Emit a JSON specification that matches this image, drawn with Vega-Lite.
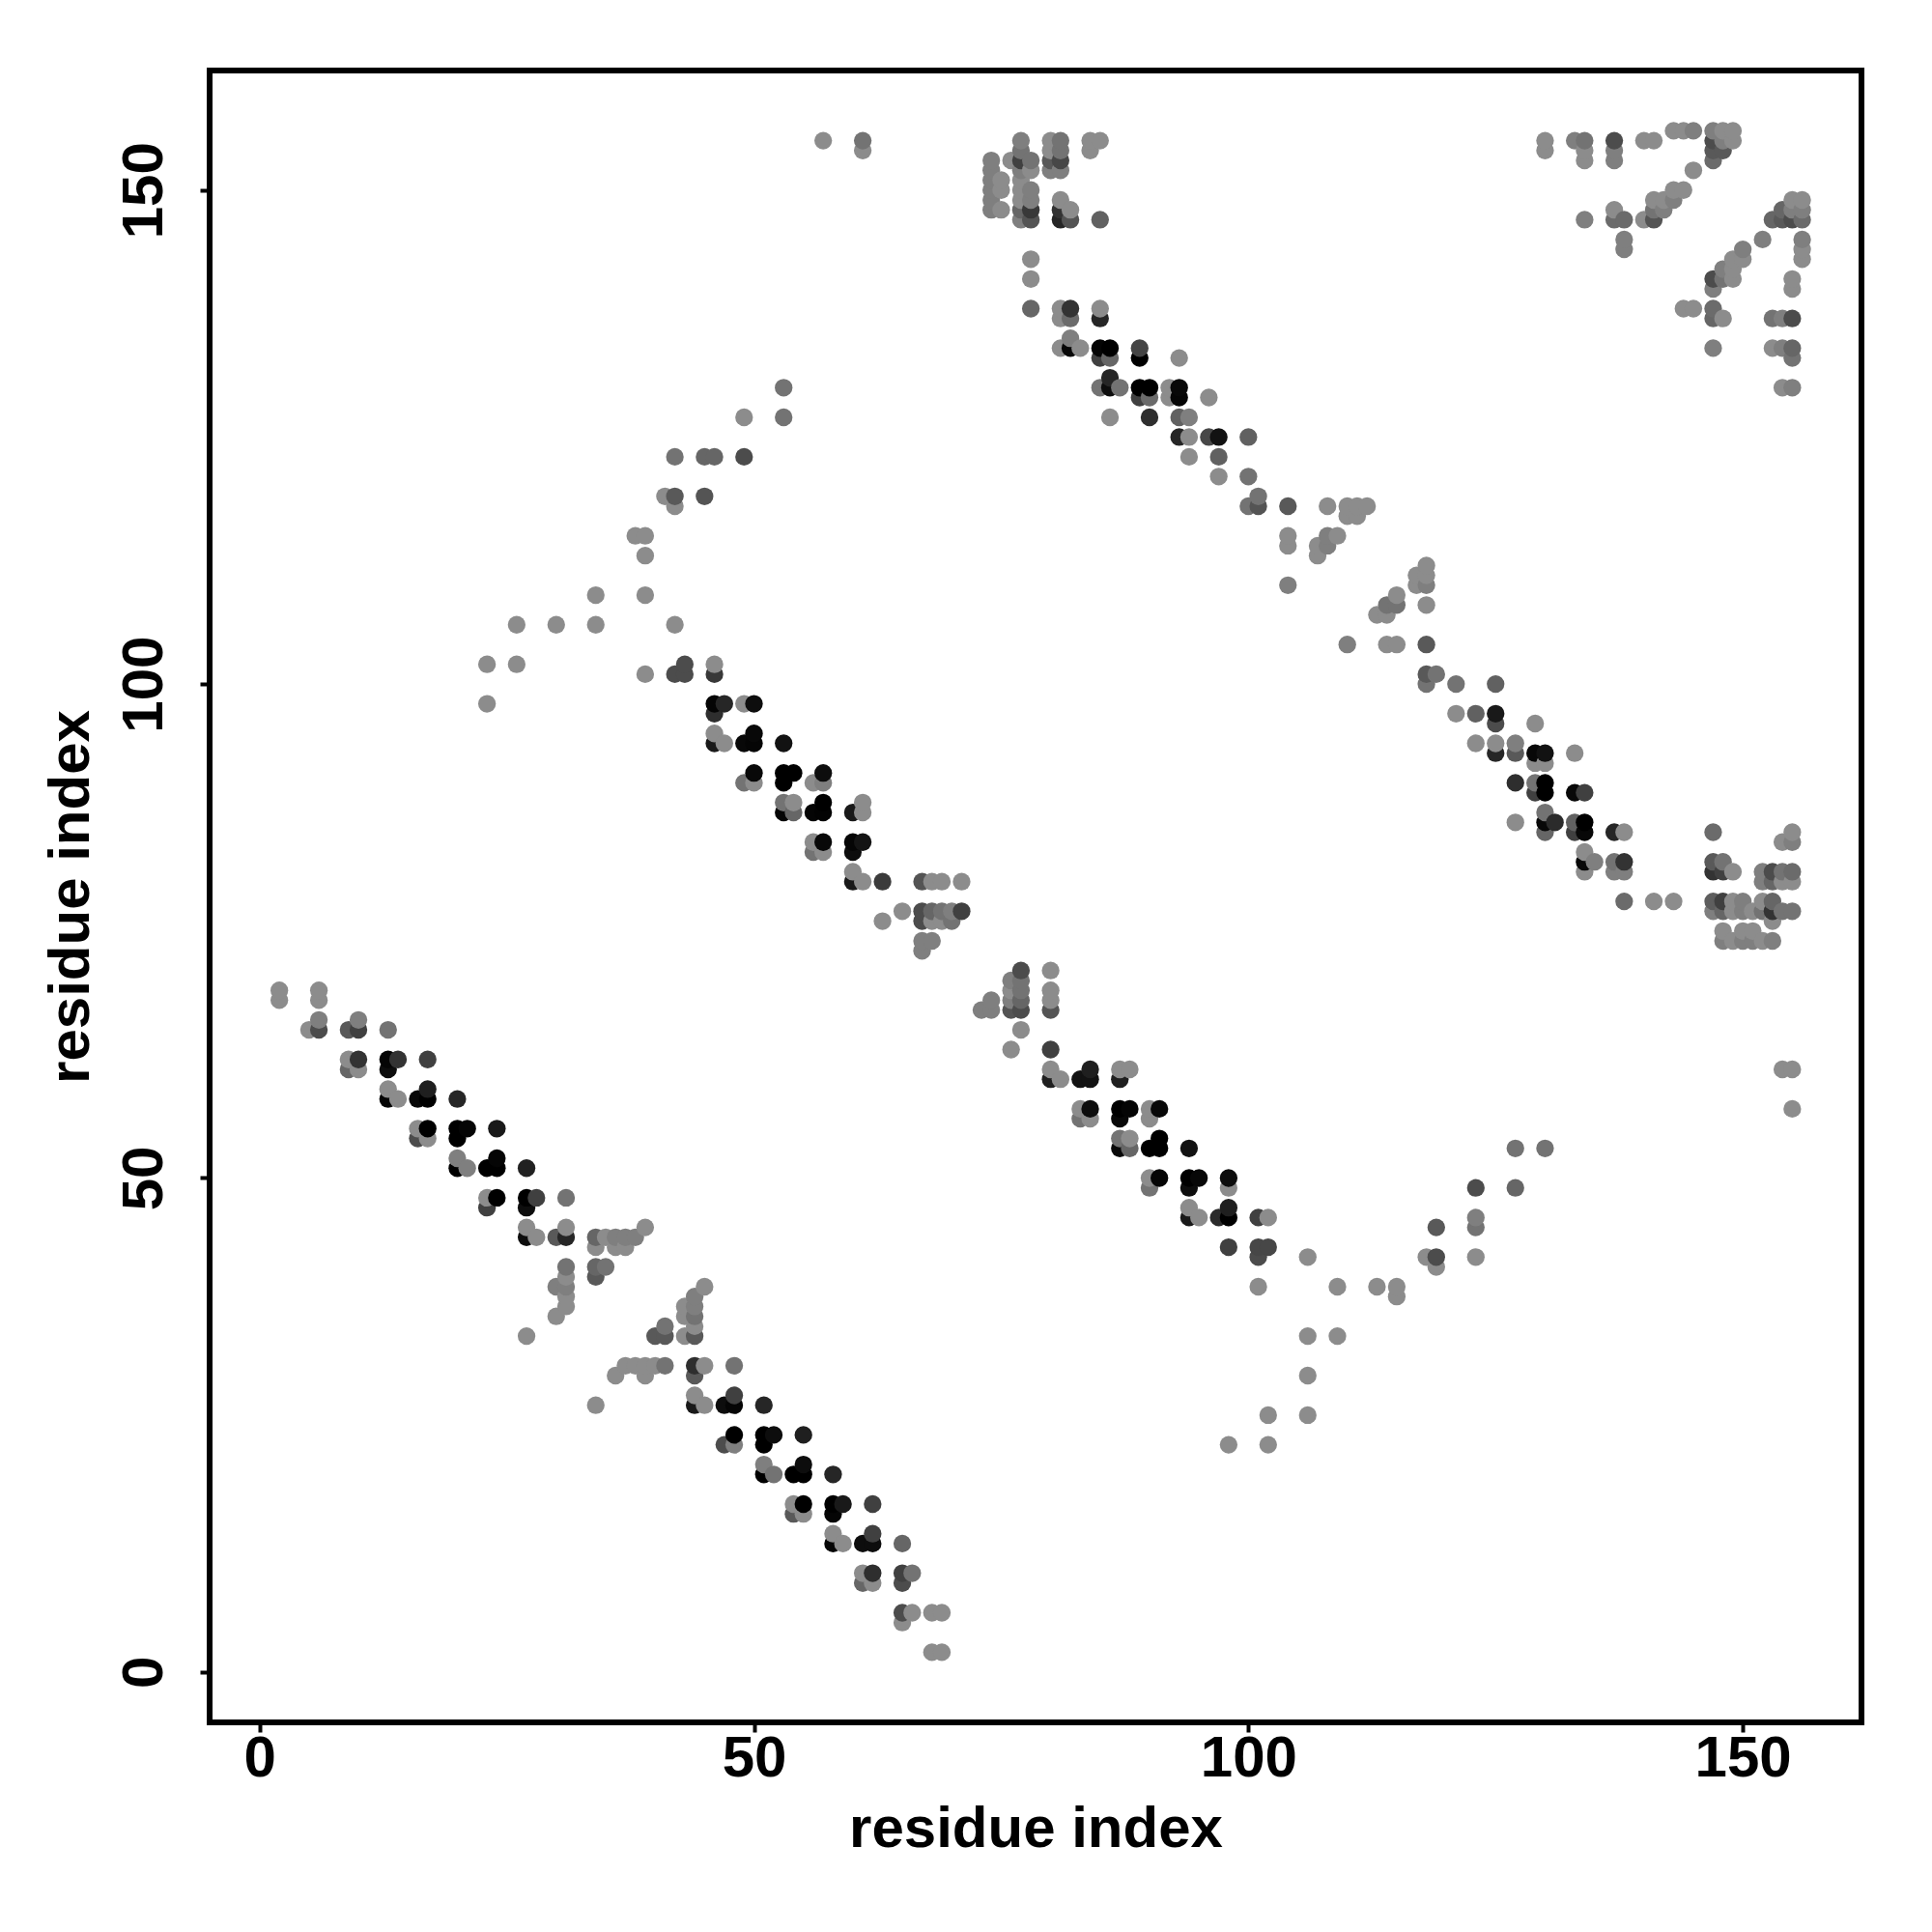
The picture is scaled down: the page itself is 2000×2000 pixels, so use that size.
{"$schema":"https://vega.github.io/schema/vega-lite/v6.json","width":1710,"height":1710,"autosize":{"type":"none"},"padding":{"left":217,"top":73,"right":73,"bottom":217},"background":"white","config":{"view":{"stroke":"black","strokeWidth":6,"fill":"white"}},"data":{"values":[
{"x":2,"y":68,"s":0.55},{"x":2,"y":69,"s":0.55},{"x":5,"y":65,"s":0.55},{"x":6,"y":65,"s":0.3},{"x":6,"y":66,"s":0.5},{"x":6,"y":68,"s":0.55},{"x":6,"y":69,"s":0.55},
{"x":9,"y":61,"s":0.4},{"x":9,"y":62,"s":0.55},{"x":9,"y":65,"s":0.35},{"x":10,"y":61,"s":0.55},{"x":10,"y":62,"s":0.2},{"x":10,"y":65,"s":0.25},{"x":10,"y":66,"s":0.5},
{"x":13,"y":58,"s":0.02},{"x":13,"y":59,"s":0.55},{"x":13,"y":61,"s":0.05},{"x":13,"y":62,"s":0.02},{"x":13,"y":65,"s":0.45},{"x":14,"y":58,"s":0.55},{"x":14,"y":62,"s":0.2},
{"x":16,"y":54,"s":0.3},{"x":16,"y":55,"s":0.55},{"x":16,"y":58,"s":0.03},{"x":17,"y":54,"s":0.55},{"x":17,"y":55,"s":0},{"x":17,"y":58,"s":0},{"x":17,"y":59,"s":0.12},{"x":17,"y":62,"s":0.25},
{"x":20,"y":51,"s":0},{"x":20,"y":52,"s":0.5},{"x":20,"y":54,"s":0},{"x":20,"y":55,"s":0},{"x":20,"y":58,"s":0.15},{"x":21,"y":51,"s":0.5},{"x":21,"y":55,"s":0.02},
{"x":23,"y":47,"s":0.25},{"x":23,"y":48,"s":0.55},{"x":23,"y":51,"s":0},{"x":23,"y":98,"s":0.55},{"x":23,"y":102,"s":0.55},{"x":24,"y":48,"s":0},{"x":24,"y":51,"s":0},{"x":24,"y":52,"s":0.02},{"x":24,"y":55,"s":0.1},
{"x":26,"y":102,"s":0.55},{"x":26,"y":106,"s":0.55},{"x":27,"y":34,"s":0.55},{"x":27,"y":44,"s":0.05},{"x":27,"y":45,"s":0.55},{"x":27,"y":47,"s":0.05},{"x":27,"y":48,"s":0},{"x":27,"y":51,"s":0.13},{"x":28,"y":44,"s":0.55},{"x":28,"y":48,"s":0.25},
{"x":30,"y":36,"s":0.55},{"x":30,"y":39,"s":0.5},{"x":30,"y":44,"s":0.35},{"x":30,"y":106,"s":0.55},{"x":31,"y":37,"s":0.55},{"x":31,"y":38,"s":0.55},{"x":31,"y":39,"s":0.5},{"x":31,"y":40,"s":0.55},{"x":31,"y":41,"s":0.45},{"x":31,"y":44,"s":0.15},{"x":31,"y":45,"s":0.55},{"x":31,"y":48,"s":0.45},
{"x":34,"y":27,"s":0.55},{"x":34,"y":40,"s":0.35},{"x":34,"y":41,"s":0.4},{"x":34,"y":43,"s":0.55},{"x":34,"y":44,"s":0.4},{"x":34,"y":106,"s":0.55},{"x":34,"y":109,"s":0.55},{"x":35,"y":41,"s":0.45},{"x":35,"y":44,"s":0.55},
{"x":36,"y":30,"s":0.55},{"x":36,"y":43,"s":0.55},{"x":36,"y":44,"s":0.5},{"x":37,"y":31,"s":0.55},{"x":37,"y":43,"s":0.55},{"x":37,"y":44,"s":0.5},{"x":38,"y":31,"s":0.55},{"x":38,"y":44,"s":0.5},{"x":38,"y":115,"s":0.55},
{"x":39,"y":30,"s":0.55},{"x":39,"y":31,"s":0.55},{"x":39,"y":45,"s":0.55},{"x":39,"y":101,"s":0.55},{"x":39,"y":109,"s":0.55},{"x":39,"y":113,"s":0.55},{"x":39,"y":115,"s":0.55},
{"x":40,"y":31,"s":0.55},{"x":40,"y":34,"s":0.35},{"x":41,"y":31,"s":0.45},{"x":41,"y":34,"s":0.35},{"x":41,"y":35,"s":0.45},{"x":41,"y":119,"s":0.55},
{"x":42,"y":101,"s":0.3},{"x":42,"y":106,"s":0.55},{"x":42,"y":118,"s":0.55},{"x":42,"y":119,"s":0.35},{"x":42,"y":123,"s":0.45},{"x":43,"y":34,"s":0.55},{"x":43,"y":36,"s":0.55},{"x":43,"y":37,"s":0.55},{"x":43,"y":101,"s":0.3},{"x":43,"y":102,"s":0.3},
{"x":44,"y":27,"s":0.1},{"x":44,"y":28,"s":0.55},{"x":44,"y":30,"s":0.35},{"x":44,"y":31,"s":0.18},{"x":44,"y":34,"s":0.35},{"x":44,"y":35,"s":0.55},{"x":44,"y":36,"s":0.45},{"x":44,"y":37,"s":0.5},{"x":44,"y":38,"s":0.5},
{"x":45,"y":27,"s":0.55},{"x":45,"y":31,"s":0.55},{"x":45,"y":39,"s":0.55},{"x":45,"y":119,"s":0.33},{"x":45,"y":123,"s":0.4},
{"x":46,"y":94,"s":0.1},{"x":46,"y":95,"s":0.55},{"x":46,"y":97,"s":0.18},{"x":46,"y":98,"s":0.02},{"x":46,"y":101,"s":0.22},{"x":46,"y":102,"s":0.55},{"x":46,"y":123,"s":0.4},
{"x":47,"y":23,"s":0.3},{"x":47,"y":27,"s":0.05},{"x":47,"y":94,"s":0.55},{"x":47,"y":98,"s":0.15},{"x":48,"y":23,"s":0.5},{"x":48,"y":24,"s":0},{"x":48,"y":27,"s":0.02},{"x":48,"y":28,"s":0.25},{"x":48,"y":31,"s":0.45},
{"x":49,"y":90,"s":0.45},{"x":49,"y":94,"s":0.03},{"x":49,"y":98,"s":0.55},{"x":49,"y":123,"s":0.3},{"x":49,"y":127,"s":0.55},{"x":50,"y":90,"s":0.55},{"x":50,"y":91,"s":0.03},{"x":50,"y":94,"s":0.02},{"x":50,"y":95,"s":0.03},{"x":50,"y":98,"s":0.05},
{"x":51,"y":20,"s":0},{"x":51,"y":21,"s":0.5},{"x":51,"y":23,"s":0},{"x":51,"y":24,"s":0},{"x":51,"y":27,"s":0.15},{"x":52,"y":20,"s":0.45},{"x":52,"y":24,"s":0.05},
{"x":53,"y":87,"s":0.02},{"x":53,"y":88,"s":0.45},{"x":53,"y":90,"s":0},{"x":53,"y":91,"s":0},{"x":53,"y":94,"s":0.07},{"x":53,"y":127,"s":0.45},{"x":53,"y":130,"s":0.45},
{"x":54,"y":16,"s":0.35},{"x":54,"y":17,"s":0.55},{"x":54,"y":20,"s":0},{"x":54,"y":87,"s":0.4},{"x":54,"y":88,"s":0.55},{"x":54,"y":91,"s":0},
{"x":55,"y":16,"s":0.55},{"x":55,"y":17,"s":0},{"x":55,"y":20,"s":0},{"x":55,"y":21,"s":0.05},{"x":55,"y":24,"s":0.12},
{"x":56,"y":83,"s":0.45},{"x":56,"y":84,"s":0.55},{"x":56,"y":87,"s":0.02},{"x":56,"y":90,"s":0.55},{"x":57,"y":83,"s":0.55},{"x":57,"y":84,"s":0.03},{"x":57,"y":87,"s":0.01},{"x":57,"y":88,"s":0},{"x":57,"y":90,"s":0.5},{"x":57,"y":91,"s":0.05},{"x":57,"y":155,"s":0.55},
{"x":58,"y":13,"s":0.02},{"x":58,"y":14,"s":0.55},{"x":58,"y":16,"s":0.02},{"x":58,"y":17,"s":0},{"x":58,"y":20,"s":0.15},{"x":59,"y":13,"s":0.55},{"x":59,"y":17,"s":0.1},
{"x":60,"y":80,"s":0.1},{"x":60,"y":81,"s":0.55},{"x":60,"y":83,"s":0.05},{"x":60,"y":84,"s":0.02},{"x":60,"y":87,"s":0.1},
{"x":61,"y":9,"s":0.4},{"x":61,"y":10,"s":0.55},{"x":61,"y":13,"s":0.05},{"x":61,"y":80,"s":0.55},{"x":61,"y":84,"s":0.08},{"x":61,"y":87,"s":0.55},{"x":61,"y":88,"s":0.55},{"x":61,"y":154,"s":0.55},{"x":61,"y":155,"s":0.45},
{"x":62,"y":9,"s":0.55},{"x":62,"y":10,"s":0.18},{"x":62,"y":13,"s":0.05},{"x":62,"y":14,"s":0.25},{"x":62,"y":17,"s":0.25},{"x":63,"y":76,"s":0.55},{"x":63,"y":80,"s":0.23},
{"x":65,"y":5,"s":0.55},{"x":65,"y":6,"s":0.3},{"x":65,"y":9,"s":0.3},{"x":65,"y":10,"s":0.25},{"x":65,"y":13,"s":0.4},{"x":65,"y":77,"s":0.55},{"x":66,"y":6,"s":0.55},{"x":66,"y":10,"s":0.45},
{"x":67,"y":73,"s":0.5},{"x":67,"y":74,"s":0.5},{"x":67,"y":76,"s":0.3},{"x":67,"y":77,"s":0.3},{"x":67,"y":80,"s":0.33},{"x":68,"y":2,"s":0.55},{"x":68,"y":6,"s":0.55},{"x":68,"y":74,"s":0.5},{"x":68,"y":76,"s":0.55},{"x":68,"y":77,"s":0.4},{"x":68,"y":80,"s":0.55},
{"x":69,"y":2,"s":0.55},{"x":69,"y":6,"s":0.55},{"x":69,"y":76,"s":0.55},{"x":69,"y":77,"s":0.45},{"x":69,"y":80,"s":0.55},{"x":70,"y":76,"s":0.45},{"x":70,"y":77,"s":0.5},{"x":71,"y":77,"s":0.25},{"x":71,"y":80,"s":0.55},
{"x":73,"y":67,"s":0.5},{"x":74,"y":67,"s":0.5},{"x":74,"y":68,"s":0.5},{"x":74,"y":148,"s":0.5},{"x":74,"y":149,"s":0.5},{"x":74,"y":150,"s":0.5},{"x":74,"y":151,"s":0.5},{"x":74,"y":152,"s":0.5},{"x":74,"y":153,"s":0.5},
{"x":75,"y":148,"s":0.55},{"x":75,"y":150,"s":0.55},{"x":75,"y":151,"s":0.55},
{"x":76,"y":63,"s":0.55},{"x":76,"y":67,"s":0.33},{"x":76,"y":68,"s":0.5},{"x":76,"y":69,"s":0.55},{"x":76,"y":70,"s":0.5},{"x":76,"y":153,"s":0.55},
{"x":77,"y":65,"s":0.55},{"x":77,"y":67,"s":0.3},{"x":77,"y":68,"s":0.4},{"x":77,"y":69,"s":0.45},{"x":77,"y":70,"s":0.45},{"x":77,"y":71,"s":0.3},{"x":77,"y":147,"s":0.5},{"x":77,"y":148,"s":0.4},{"x":77,"y":149,"s":0.55},{"x":77,"y":150,"s":0.55},{"x":77,"y":151,"s":0.55},{"x":77,"y":152,"s":0.5},{"x":77,"y":153,"s":0.25},{"x":77,"y":154,"s":0.45},{"x":77,"y":155,"s":0.5},
{"x":78,"y":138,"s":0.4},{"x":78,"y":141,"s":0.55},{"x":78,"y":143,"s":0.55},{"x":78,"y":147,"s":0.33},{"x":78,"y":148,"s":0.22},{"x":78,"y":149,"s":0.5},{"x":78,"y":150,"s":0.5},{"x":78,"y":152,"s":0.55},{"x":78,"y":153,"s":0.45},
{"x":80,"y":60,"s":0.12},{"x":80,"y":61,"s":0.55},{"x":80,"y":63,"s":0.25},{"x":80,"y":67,"s":0.33},{"x":80,"y":68,"s":0.55},{"x":80,"y":69,"s":0.55},{"x":80,"y":71,"s":0.55},{"x":80,"y":152,"s":0.5},{"x":80,"y":153,"s":0.35},{"x":80,"y":154,"s":0.55},{"x":80,"y":155,"s":0.55},
{"x":81,"y":60,"s":0.55},{"x":81,"y":134,"s":0.55},{"x":81,"y":137,"s":0.55},{"x":81,"y":138,"s":0.55},{"x":81,"y":147,"s":0.15},{"x":81,"y":148,"s":0.2},{"x":81,"y":149,"s":0.55},{"x":81,"y":152,"s":0.5},{"x":81,"y":153,"s":0.28},{"x":81,"y":154,"s":0.45},{"x":81,"y":155,"s":0.45},
{"x":82,"y":134,"s":0.03},{"x":82,"y":135,"s":0.5},{"x":82,"y":137,"s":0.42},{"x":82,"y":138,"s":0.2},{"x":82,"y":147,"s":0.33},{"x":82,"y":148,"s":0.55},
{"x":83,"y":56,"s":0.45},{"x":83,"y":57,"s":0.55},{"x":83,"y":60,"s":0.07},{"x":83,"y":134,"s":0.55},{"x":84,"y":56,"s":0.55},{"x":84,"y":57,"s":0.05},{"x":84,"y":60,"s":0.07},{"x":84,"y":61,"s":0.12},{"x":84,"y":154,"s":0.55},{"x":84,"y":155,"s":0.55},
{"x":85,"y":130,"s":0.45},{"x":85,"y":133,"s":0.25},{"x":85,"y":134,"s":0.02},{"x":85,"y":137,"s":0.15},{"x":85,"y":138,"s":0.55},{"x":85,"y":147,"s":0.38},{"x":85,"y":155,"s":0.55},
{"x":86,"y":127,"s":0.55},{"x":86,"y":130,"s":0.05},{"x":86,"y":131,"s":0.15},{"x":86,"y":133,"s":0.4},{"x":86,"y":134,"s":0},
{"x":87,"y":53,"s":0.03},{"x":87,"y":54,"s":0.45},{"x":87,"y":56,"s":0.03},{"x":87,"y":57,"s":0},{"x":87,"y":60,"s":0.12},{"x":87,"y":61,"s":0.55},{"x":87,"y":130,"s":0.45},
{"x":88,"y":53,"s":0.4},{"x":88,"y":54,"s":0.55},{"x":88,"y":57,"s":0.02},{"x":88,"y":61,"s":0.55},
{"x":89,"y":129,"s":0.25},{"x":89,"y":130,"s":0},{"x":89,"y":133,"s":0},{"x":89,"y":134,"s":0.27},
{"x":90,"y":49,"s":0.45},{"x":90,"y":50,"s":0.55},{"x":90,"y":53,"s":0},{"x":90,"y":56,"s":0.55},{"x":90,"y":57,"s":0.55},{"x":90,"y":127,"s":0.18},{"x":90,"y":129,"s":0.42},{"x":90,"y":130,"s":0},
{"x":91,"y":50,"s":0.02},{"x":91,"y":53,"s":0},{"x":91,"y":54,"s":0},{"x":91,"y":57,"s":0.03},{"x":92,"y":129,"s":0.55},{"x":92,"y":130,"s":0.55},
{"x":93,"y":125,"s":0.15},{"x":93,"y":127,"s":0.38},{"x":93,"y":129,"s":0.02},{"x":93,"y":130,"s":0.03},{"x":93,"y":133,"s":0.55},
{"x":94,"y":46,"s":0.1},{"x":94,"y":47,"s":0.55},{"x":94,"y":49,"s":0.05},{"x":94,"y":50,"s":0},{"x":94,"y":53,"s":0.07},{"x":94,"y":123,"s":0.55},{"x":94,"y":125,"s":0.55},{"x":94,"y":127,"s":0.5},
{"x":95,"y":46,"s":0.55},{"x":95,"y":50,"s":0.03},{"x":96,"y":125,"s":0.28},{"x":96,"y":129,"s":0.55},{"x":97,"y":46,"s":0.17},{"x":97,"y":121,"s":0.55},{"x":97,"y":123,"s":0.38},{"x":97,"y":125,"s":0.07},
{"x":98,"y":23,"s":0.55},{"x":98,"y":43,"s":0.25},{"x":98,"y":46,"s":0},{"x":98,"y":47,"s":0.12},{"x":98,"y":49,"s":0.55},{"x":98,"y":50,"s":0.05},
{"x":100,"y":118,"s":0.45},{"x":100,"y":121,"s":0.45},{"x":100,"y":125,"s":0.38},
{"x":101,"y":39,"s":0.55},{"x":101,"y":42,"s":0.3},{"x":101,"y":43,"s":0.28},{"x":101,"y":46,"s":0.25},{"x":101,"y":118,"s":0.33},{"x":101,"y":119,"s":0.45},
{"x":102,"y":23,"s":0.55},{"x":102,"y":26,"s":0.55},{"x":102,"y":43,"s":0.28},{"x":102,"y":46,"s":0.55},
{"x":104,"y":110,"s":0.5},{"x":104,"y":114,"s":0.55},{"x":104,"y":115,"s":0.55},{"x":104,"y":118,"s":0.35},
{"x":106,"y":26,"s":0.55},{"x":106,"y":30,"s":0.55},{"x":106,"y":34,"s":0.55},{"x":106,"y":42,"s":0.55},
{"x":107,"y":113,"s":0.55},{"x":107,"y":114,"s":0.55},{"x":108,"y":114,"s":0.5},{"x":108,"y":115,"s":0.5},{"x":108,"y":118,"s":0.55},
{"x":109,"y":34,"s":0.55},{"x":109,"y":39,"s":0.55},{"x":109,"y":115,"s":0.55},
{"x":110,"y":104,"s":0.5},{"x":110,"y":117,"s":0.55},{"x":110,"y":118,"s":0.55},{"x":111,"y":117,"s":0.55},{"x":111,"y":118,"s":0.55},{"x":112,"y":118,"s":0.55},
{"x":113,"y":39,"s":0.55},{"x":113,"y":107,"s":0.55},{"x":114,"y":104,"s":0.55},{"x":114,"y":107,"s":0.55},{"x":114,"y":108,"s":0.45},
{"x":115,"y":38,"s":0.55},{"x":115,"y":39,"s":0.55},{"x":115,"y":104,"s":0.55},{"x":115,"y":108,"s":0.45},{"x":115,"y":109,"s":0.55},
{"x":117,"y":110,"s":0.55},{"x":117,"y":111,"s":0.55},
{"x":118,"y":42,"s":0.55},{"x":118,"y":100,"s":0.45},{"x":118,"y":101,"s":0.35},{"x":118,"y":104,"s":0.35},{"x":118,"y":108,"s":0.55},{"x":118,"y":110,"s":0.5},{"x":118,"y":111,"s":0.55},{"x":118,"y":112,"s":0.55},
{"x":119,"y":41,"s":0.55},{"x":119,"y":42,"s":0.3},{"x":119,"y":45,"s":0.35},{"x":119,"y":101,"s":0.45},
{"x":121,"y":97,"s":0.55},{"x":121,"y":100,"s":0.45},
{"x":123,"y":42,"s":0.55},{"x":123,"y":45,"s":0.45},{"x":123,"y":46,"s":0.5},{"x":123,"y":49,"s":0.3},{"x":123,"y":94,"s":0.55},{"x":123,"y":97,"s":0.38},
{"x":125,"y":93,"s":0.15},{"x":125,"y":94,"s":0.55},{"x":125,"y":96,"s":0.3},{"x":125,"y":97,"s":0.1},{"x":125,"y":100,"s":0.38},
{"x":127,"y":49,"s":0.4},{"x":127,"y":53,"s":0.45},{"x":127,"y":86,"s":0.55},{"x":127,"y":90,"s":0.18},{"x":127,"y":93,"s":0.35},{"x":127,"y":94,"s":0.5},
{"x":129,"y":89,"s":0.25},{"x":129,"y":90,"s":0.45},{"x":129,"y":92,"s":0.55},{"x":129,"y":93,"s":0.03},{"x":129,"y":96,"s":0.55},
{"x":130,"y":53,"s":0.45},{"x":130,"y":85,"s":0.4},{"x":130,"y":86,"s":0.03},{"x":130,"y":87,"s":0.45},{"x":130,"y":89,"s":0},{"x":130,"y":90,"s":0},{"x":130,"y":92,"s":0.55},{"x":130,"y":93,"s":0.07},{"x":130,"y":154,"s":0.55},{"x":130,"y":155,"s":0.55},
{"x":131,"y":86,"s":0.17},
{"x":133,"y":85,"s":0.25},{"x":133,"y":86,"s":0.38},{"x":133,"y":89,"s":0.03},{"x":133,"y":93,"s":0.55},{"x":133,"y":155,"s":0.5},
{"x":134,"y":81,"s":0.55},{"x":134,"y":82,"s":0.03},{"x":134,"y":83,"s":0.55},{"x":134,"y":85,"s":0.03},{"x":134,"y":86,"s":0},{"x":134,"y":89,"s":0.25},{"x":134,"y":147,"s":0.5},{"x":134,"y":153,"s":0.55},{"x":134,"y":154,"s":0.55},{"x":134,"y":155,"s":0.45},
{"x":135,"y":82,"s":0.5},
{"x":137,"y":81,"s":0.5},{"x":137,"y":82,"s":0.45},{"x":137,"y":85,"s":0.15},{"x":137,"y":147,"s":0.42},{"x":137,"y":148,"s":0.55},{"x":137,"y":153,"s":0.5},{"x":137,"y":154,"s":0.5},{"x":137,"y":155,"s":0.3},
{"x":138,"y":78,"s":0.42},{"x":138,"y":81,"s":0.5},{"x":138,"y":82,"s":0.2},{"x":138,"y":85,"s":0.55},{"x":138,"y":144,"s":0.5},{"x":138,"y":145,"s":0.5},{"x":138,"y":147,"s":0.42},
{"x":140,"y":147,"s":0.55},{"x":140,"y":155,"s":0.55},
{"x":141,"y":78,"s":0.55},{"x":141,"y":147,"s":0.33},{"x":141,"y":148,"s":0.45},{"x":141,"y":149,"s":0.55},{"x":141,"y":155,"s":0.55},
{"x":142,"y":148,"s":0.5},{"x":142,"y":149,"s":0.55},
{"x":143,"y":78,"s":0.55},{"x":143,"y":149,"s":0.5},{"x":143,"y":150,"s":0.55},{"x":143,"y":156,"s":0.55},
{"x":144,"y":138,"s":0.55},{"x":144,"y":150,"s":0.55},{"x":144,"y":156,"s":0.55},
{"x":145,"y":138,"s":0.55},{"x":145,"y":152,"s":0.55},{"x":145,"y":156,"s":0.5},
{"x":147,"y":77,"s":0.5},{"x":147,"y":78,"s":0.37},{"x":147,"y":81,"s":0.2},{"x":147,"y":82,"s":0.35},{"x":147,"y":85,"s":0.42},{"x":147,"y":134,"s":0.5},{"x":147,"y":137,"s":0.4},{"x":147,"y":138,"s":0.42},{"x":147,"y":140,"s":0.5},{"x":147,"y":141,"s":0.3},{"x":147,"y":153,"s":0.42},{"x":147,"y":154,"s":0.35},{"x":147,"y":155,"s":0.3},{"x":147,"y":156,"s":0.5},
{"x":148,"y":74,"s":0.5},{"x":148,"y":75,"s":0.55},{"x":148,"y":77,"s":0.4},{"x":148,"y":78,"s":0.25},{"x":148,"y":81,"s":0.25},{"x":148,"y":82,"s":0.45},{"x":148,"y":137,"s":0.55},{"x":148,"y":141,"s":0.45},{"x":148,"y":142,"s":0.5},{"x":148,"y":154,"s":0.35},{"x":148,"y":155,"s":0.5},{"x":148,"y":156,"s":0.55},
{"x":149,"y":74,"s":0.55},{"x":149,"y":77,"s":0.55},{"x":149,"y":78,"s":0.55},{"x":149,"y":81,"s":0.55},{"x":149,"y":141,"s":0.55},{"x":149,"y":142,"s":0.55},{"x":149,"y":143,"s":0.55},{"x":149,"y":155,"s":0.55},{"x":149,"y":156,"s":0.55},
{"x":150,"y":74,"s":0.5},{"x":150,"y":75,"s":0.55},{"x":150,"y":77,"s":0.5},{"x":150,"y":78,"s":0.5},{"x":150,"y":143,"s":0.55},{"x":150,"y":144,"s":0.5},
{"x":151,"y":74,"s":0.5},{"x":151,"y":75,"s":0.55},{"x":151,"y":77,"s":0.55},
{"x":152,"y":74,"s":0.55},{"x":152,"y":77,"s":0.45},{"x":152,"y":78,"s":0.55},{"x":152,"y":80,"s":0.5},{"x":152,"y":81,"s":0.5},{"x":152,"y":145,"s":0.5},
{"x":153,"y":74,"s":0.5},{"x":153,"y":76,"s":0.55},{"x":153,"y":77,"s":0.2},{"x":153,"y":78,"s":0.4},{"x":153,"y":80,"s":0.4},{"x":153,"y":81,"s":0.3},{"x":153,"y":134,"s":0.55},{"x":153,"y":137,"s":0.45},{"x":153,"y":147,"s":0.4},
{"x":154,"y":61,"s":0.55},{"x":154,"y":77,"s":0.45},{"x":154,"y":80,"s":0.55},{"x":154,"y":81,"s":0.45},{"x":154,"y":84,"s":0.55},{"x":154,"y":130,"s":0.55},{"x":154,"y":134,"s":0.5},{"x":154,"y":137,"s":0.5},{"x":154,"y":147,"s":0.35},{"x":154,"y":148,"s":0.4},
{"x":155,"y":57,"s":0.55},{"x":155,"y":61,"s":0.55},{"x":155,"y":77,"s":0.45},{"x":155,"y":80,"s":0.55},{"x":155,"y":81,"s":0.42},{"x":155,"y":84,"s":0.5},{"x":155,"y":85,"s":0.55},{"x":155,"y":130,"s":0.5},{"x":155,"y":133,"s":0.45},{"x":155,"y":134,"s":0.4},{"x":155,"y":137,"s":0.3},{"x":155,"y":140,"s":0.55},{"x":155,"y":141,"s":0.55},{"x":155,"y":147,"s":0.3},{"x":155,"y":148,"s":0.5},{"x":155,"y":149,"s":0.55},
{"x":156,"y":143,"s":0.55},{"x":156,"y":144,"s":0.55},{"x":156,"y":145,"s":0.5},{"x":156,"y":147,"s":0.42},{"x":156,"y":148,"s":0.5},{"x":156,"y":149,"s":0.55}
]},
"mark":{"type":"point","filled":true,"shape":"circle","size":335,"opacity":1},
"encoding":{
"x":{"field":"x","type":"quantitative","scale":{"domain":[-5.05,162],"nice":false,"zero":false},"axis":{"grid":false,"values":[0,50,100,150],"title":"residue index","titleFont":"Liberation Sans","titleFontWeight":"bold","titleFontSize":60,"titleColor":"black","titlePadding":14,"labelFont":"Liberation Sans","labelFontWeight":"bold","labelFontSize":60,"labelColor":"black","labelPadding":-2,"labelFlush":false,"labelOverlap":false,"tickSize":10,"tickWidth":4,"tickColor":"black","domain":false}},
"y":{"field":"y","type":"quantitative","scale":{"domain":[-5.1,162.1],"nice":false,"zero":false},"axis":{"grid":false,"values":[0,50,100,150],"title":"residue index","titleFont":"Liberation Sans","titleFontWeight":"bold","titleFontSize":60,"titleColor":"black","titlePadding":15,"labelFont":"Liberation Sans","labelFontWeight":"bold","labelFontSize":60,"labelColor":"black","labelAngle":-90,"labelAlign":"center","labelBaseline":"bottom","labelPadding":27,"labelFlush":false,"labelOverlap":false,"tickSize":10,"tickWidth":4,"tickColor":"black","domain":false}},
"color":{"field":"s","type":"quantitative","legend":null,"scale":{"domain":[0,0.55],"range":["#000000","#8c8c8c"],"interpolate":"rgb"}}
}}
